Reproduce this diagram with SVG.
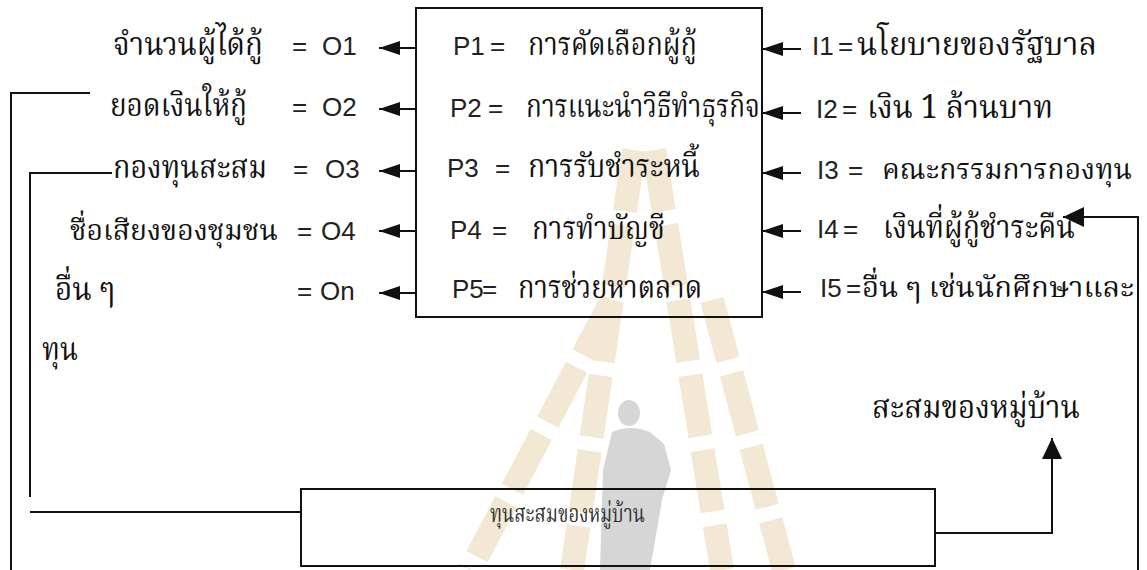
<svg xmlns="http://www.w3.org/2000/svg" width="1147" height="570" viewBox="0 0 1147 570">
<style>
.th{font-family:"Noto Serif Thai","Noto Sans Thai","Liberation Serif",serif;font-size:32px;fill:#111}
.th2{font-size:28px}
.lt{font-family:"Liberation Sans",Arial,sans-serif;font-size:26px;fill:#222}
.sm{font-family:"Noto Serif Thai","Noto Sans Thai","Liberation Serif",serif;font-size:25px;fill:#333}
.ln{fill:none;stroke:#111;stroke-width:2}
.wm{fill:none;stroke:#f2e8d3;stroke-width:24;stroke-dasharray:62 14}
</style>
<defs>
<marker id="ah" viewBox="0 0 21 14" refX="21" refY="7" markerWidth="21" markerHeight="14" markerUnits="userSpaceOnUse" orient="auto">
<path d="M0,0 L21,7 L0,14 z" fill="#111"/>
</marker>
<marker id="ahb" viewBox="0 0 21 20" refX="21" refY="10" markerWidth="21" markerHeight="20" markerUnits="userSpaceOnUse" orient="auto">
<path d="M0,0 L21,10 L0,20 z" fill="#111"/>
</marker>
</defs>
<rect width="1147" height="570" fill="#fff"/>
<g id="watermark">
<line class="wm" x1="612" y1="300" x2="470" y2="570"/>
<line class="wm" x1="634" y1="150" x2="572" y2="570"/>
<line class="wm" x1="654" y1="150" x2="722" y2="570"/>
<line class="wm" x1="712" y1="300" x2="784" y2="570"/>
<ellipse cx="629" cy="413" rx="11" ry="13" fill="#d6d6d6"/>
<path d="M612,432 Q630,424 650,432 L664,444 L671,470 L662,500 L650,570 L600,570 L603,470 Z" fill="#d6d6d6"/>
</g>
<g id="process">
<rect x="416" y="8" width="346" height="309" class="ln"/>
<text class="lt" x="453" y="55">P1</text><text class="lt" x="490" y="55">=</text>
<text class="th" x="528" y="55" textLength="169" lengthAdjust="spacingAndGlyphs">การคัดเลือกผู้กู้</text>
<text class="lt" x="450" y="117">P2</text><text class="lt" x="488" y="117">=</text>
<text class="th" x="526" y="117" textLength="234" lengthAdjust="spacingAndGlyphs">การแนะนำวิธีทำธุรกิจ</text>
<text class="lt" x="447" y="177">P3</text><text class="lt" x="495" y="177">=</text>
<text class="th" x="528" y="177" textLength="172" lengthAdjust="spacingAndGlyphs">การรับชำระหนี้</text>
<text class="lt" x="450" y="239">P4</text><text class="lt" x="492" y="239">=</text>
<text class="th" x="532" y="239" textLength="133" lengthAdjust="spacingAndGlyphs">การทำบัญชี</text>
<text class="lt" x="452" y="298">P5</text><text class="lt" x="482" y="298">=</text>
<text class="th" x="518" y="298" textLength="184" lengthAdjust="spacingAndGlyphs">การช่วยหาตลาด</text>
</g>
<g id="outputs">
<text class="th" x="113" y="55" textLength="150" lengthAdjust="spacingAndGlyphs">จำนวนผู้ได้กู้</text>
<text class="lt" x="292" y="55">=</text><text class="lt" x="322" y="55">O1</text>
<text class="th" x="110" y="116" textLength="137" lengthAdjust="spacingAndGlyphs">ยอดเงินให้กู้</text>
<text class="lt" x="292" y="116">=</text><text class="lt" x="322" y="116">O2</text>
<text class="th" x="113" y="178" textLength="154" lengthAdjust="spacingAndGlyphs">กองทุนสะสม</text>
<text class="lt" x="293" y="178">=</text><text class="lt" x="325" y="178">O3</text>
<text class="th th2" x="70" y="240" textLength="208" lengthAdjust="spacingAndGlyphs">ชื่อเสียงของชุมชน</text>
<text class="lt" x="297" y="240">=</text><text class="lt" x="321" y="240">O4</text>
<text class="th" x="55" y="300" textLength="60" lengthAdjust="spacingAndGlyphs">อื่น ๆ</text>
<text class="lt" x="297" y="300">=</text><text class="lt" x="320" y="300">On</text>
<text class="th" x="42" y="360" textLength="36" lengthAdjust="spacingAndGlyphs">ทุน</text>
</g>
<g id="inputs">
<text class="lt" x="812" y="55">I1</text><text class="lt" x="838" y="55">=</text>
<text class="th" x="857" y="55" textLength="240" lengthAdjust="spacingAndGlyphs">นโยบายของรัฐบาล</text>
<text class="lt" x="816" y="118">I2</text><text class="lt" x="842" y="118">=</text>
<text class="th" x="867" y="118" textLength="186" lengthAdjust="spacingAndGlyphs">เงิน 1 ล้านบาท</text>
<text class="lt" x="817" y="179">I3</text><text class="lt" x="848" y="179">=</text>
<text class="th th2" x="882" y="179" textLength="250" lengthAdjust="spacingAndGlyphs">คณะกรรมการกองทุน</text>
<text class="lt" x="817" y="238">I4</text><text class="lt" x="843" y="238">=</text>
<text class="th" x="883" y="238" textLength="192" lengthAdjust="spacingAndGlyphs">เงินที่ผู้กู้ชำระคืน</text>
<text class="lt" x="820" y="297">I5</text><text class="lt" x="846" y="297">=</text>
<text class="th th2" x="862" y="297" textLength="272" lengthAdjust="spacingAndGlyphs">อื่น ๆ เช่นนักศึกษาและ</text>
</g>
<g id="accum-label">
<text class="th" x="872" y="418" textLength="208" lengthAdjust="spacingAndGlyphs">สะสมของหมู่บ้าน</text>
</g>
<g id="village-fund">
<rect x="301" y="489" width="634" height="77" class="ln"/>
<text class="sm" x="490" y="522" textLength="155" lengthAdjust="spacingAndGlyphs">ทุนสะสมของหมู่บ้าน</text>
</g>
<g id="connectors">
<line class="ln" x1="416" y1="48" x2="379" y2="48" marker-end="url(#ah)"/>
<line class="ln" x1="416" y1="109" x2="379" y2="109" marker-end="url(#ah)"/>
<line class="ln" x1="416" y1="171" x2="379" y2="171" marker-end="url(#ah)"/>
<line class="ln" x1="416" y1="231" x2="379" y2="231" marker-end="url(#ah)"/>
<line class="ln" x1="416" y1="293" x2="379" y2="293" marker-end="url(#ah)"/>
<line class="ln" x1="801" y1="49" x2="762" y2="49" marker-end="url(#ah)"/>
<line class="ln" x1="801" y1="113" x2="762" y2="113" marker-end="url(#ah)"/>
<line class="ln" x1="801" y1="173" x2="762" y2="173" marker-end="url(#ah)"/>
<line class="ln" x1="801" y1="231" x2="762" y2="231" marker-end="url(#ah)"/>
<line class="ln" x1="801" y1="292" x2="762" y2="292" marker-end="url(#ah)"/>
<polyline class="ln" points="90,93 11,93 11,570"/>
<polyline class="ln" points="112,173 30,173 30,497"/>
<line class="ln" x1="30" y1="512" x2="301" y2="512"/>
<polyline class="ln" points="935,533 1052,533 1052,438" marker-end="url(#ahb)"/>
<polyline class="ln" points="1138,570 1138,217 1063,217" marker-end="url(#ahb)"/>
</g>
</svg>
